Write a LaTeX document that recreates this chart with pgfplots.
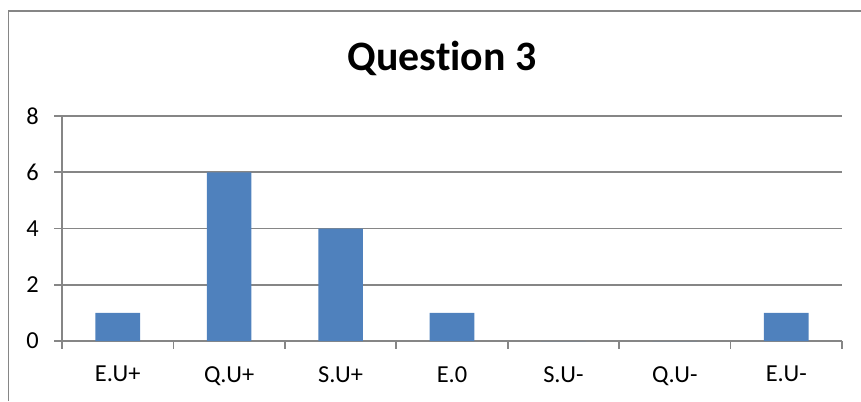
\documentclass[border=0pt]{standalone}
\usepackage{pgfplots}
\pgfplotsset{compat=1.18}
\usepackage{fontspec}
\setmainfont{Carlito}[Ligatures=NoCommon]
\definecolor{barblue}{RGB}{79,129,189}
\definecolor{axgray}{RGB}{134,134,134}
\begin{document}
\begin{tikzpicture}[x=1bp,y=1bp]
\useasboundingbox (0,0) rectangle (861,401);
\draw[color=axgray, line width=1.6bp] (8.5,0) -- (8.5,390) -- (861,390);
\node[font=\bfseries\fontsize{42}{50}\selectfont, inner sep=0pt] at (442,343) {Question 3};
\begin{axis}[
  at={(62bp,60bp)}, anchor=south west,
  scale only axis, width=780bp, height=225bp,
  xmin=-0.5, xmax=6.5, ymin=0, ymax=8,
  axis x line*=bottom, axis y line*=left,
  axis line style={draw=axgray, line width=1.6bp, -},
  every tick/.style={draw=axgray, line width=1.6bp},
  tick align=outside, major tick length=7.5bp,
  ytick={0,2,4,6,8},
  ymajorgrids, grid style={draw=axgray, line width=1.6bp},
  xtick={-0.5,0.5,...,6.5}, xticklabels={},
  extra x ticks={0,1,2,3,4,5,6},
  extra x tick labels={E.U+,Q.U+,S.U+,E.0,S.U-,Q.U-,E.U-},
  extra x tick style={major tick length=0pt, grid=none},
  xticklabel style={font=\fontsize{24.5}{29}\selectfont, inner sep=0pt, anchor=north, yshift=-25bp},
  yticklabel style={font=\fontsize{24.5}{29}\selectfont, inner sep=0pt, anchor=east, xshift=-15.5bp},
  /pgf/number format/assume math mode=true,
  ybar, bar width=44.6bp, bar shift=0pt,
]
\addplot[fill=barblue, draw=none] coordinates {(0,1) (1,6) (2,4) (3,1) (4,0) (5,0) (6,1)};
\end{axis}
\end{tikzpicture}
\end{document}
